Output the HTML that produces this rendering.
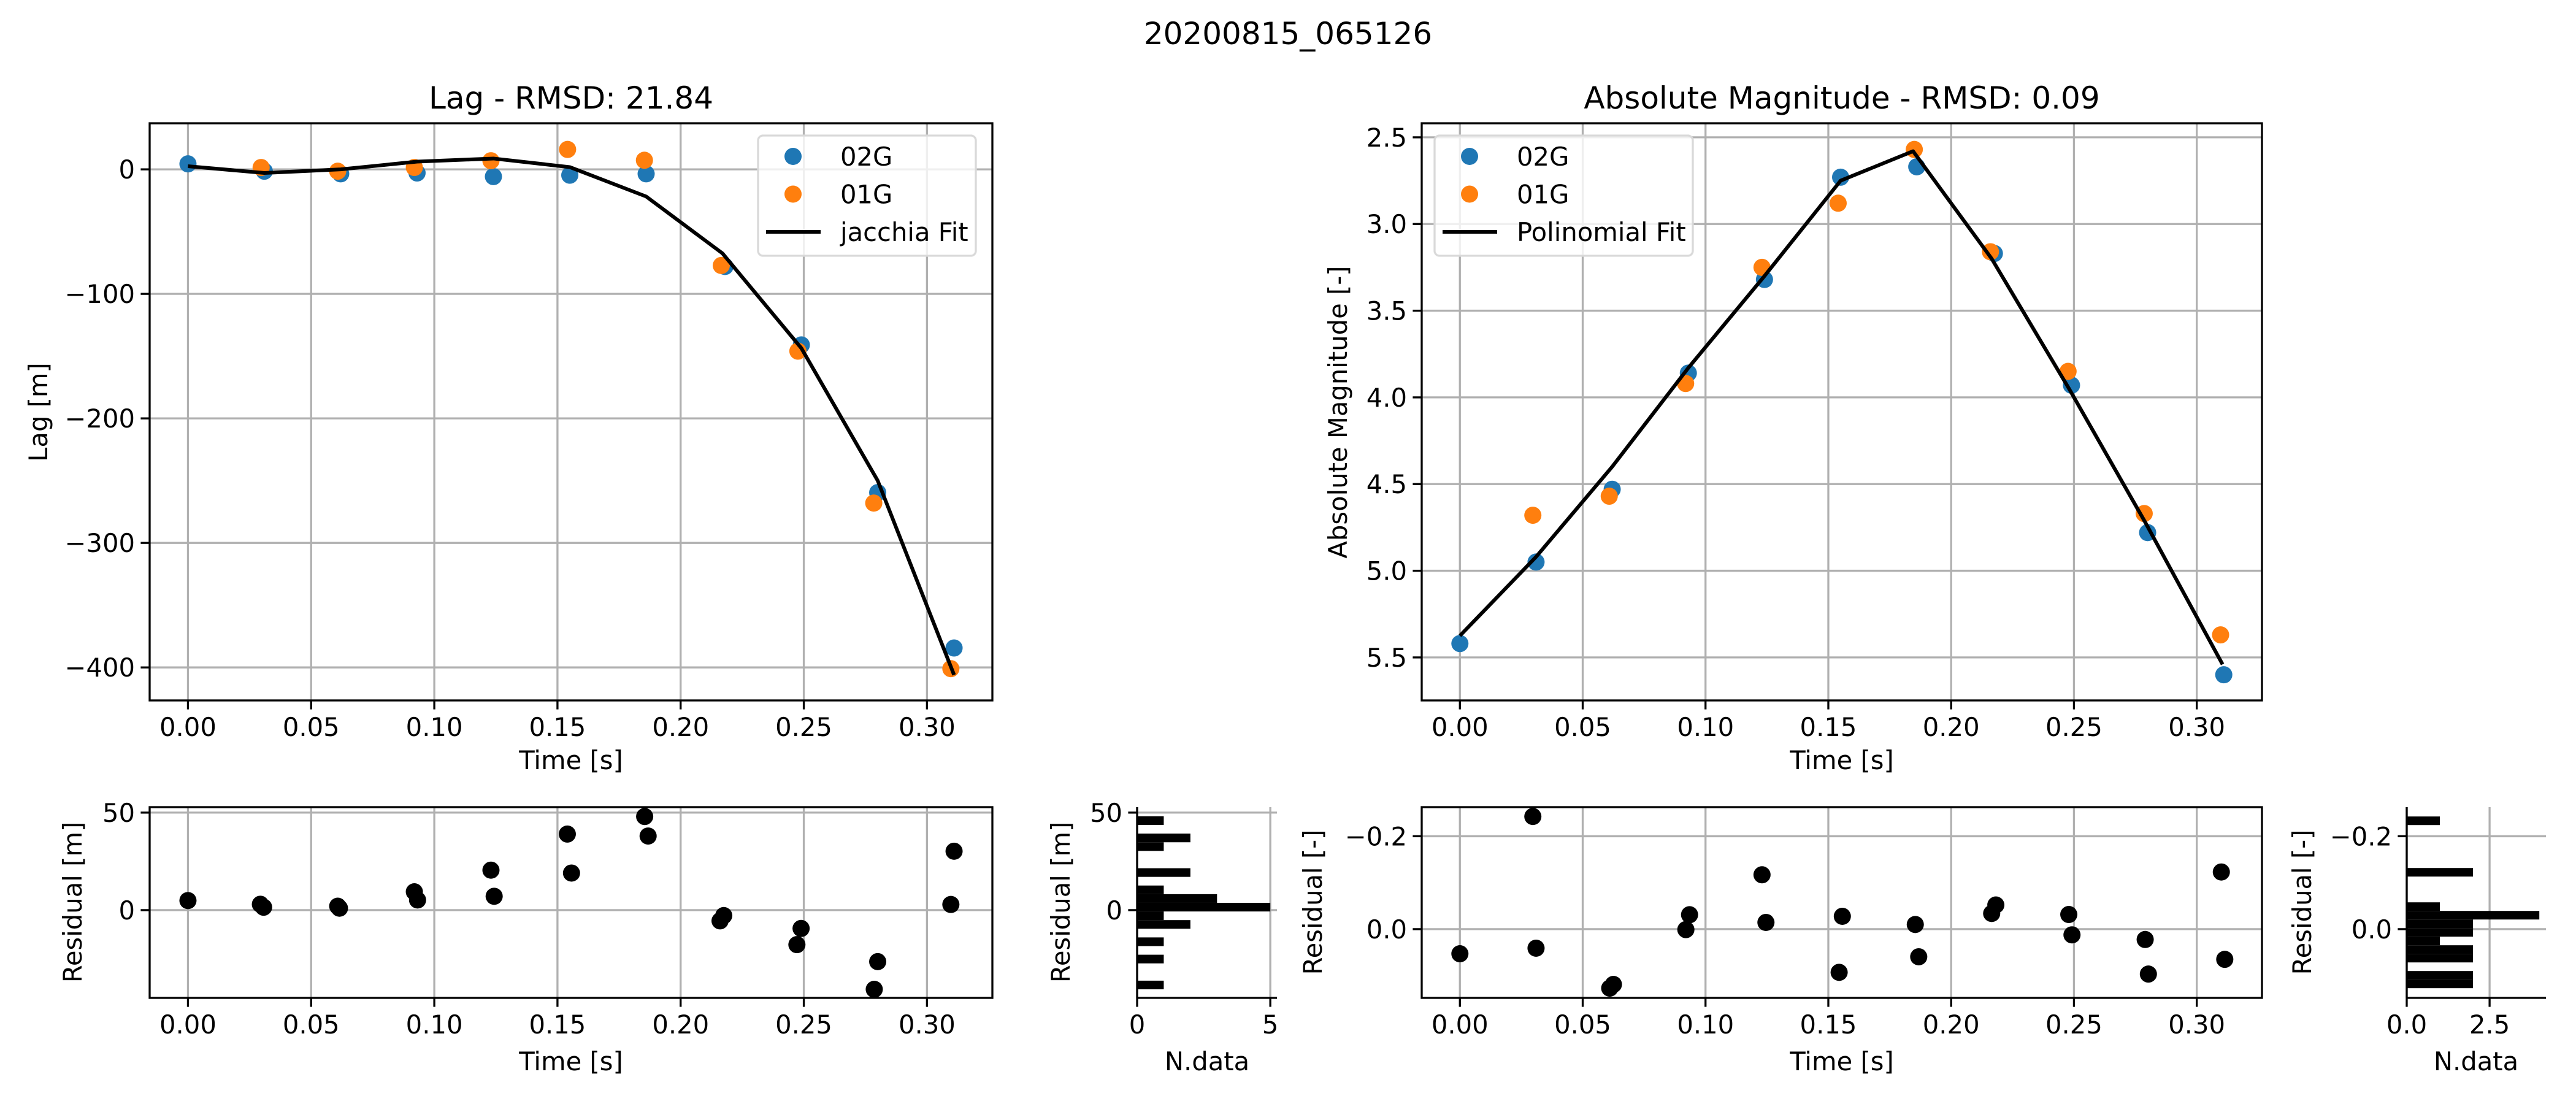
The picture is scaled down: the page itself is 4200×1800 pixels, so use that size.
<!DOCTYPE html>
<html><head><meta charset="utf-8"><style>
html,body{margin:0;padding:0;background:#fff;}
svg{display:block;font-family:"DejaVu Sans","Liberation Sans",sans-serif;}
</style></head><body>
<svg id="fig" xmlns="http://www.w3.org/2000/svg" width="4200" height="1800" viewBox="0 0 4200 1800">
<rect width="4200" height="1800" fill="#fff"/>
<text x="2100" y="72" font-size="50" text-anchor="middle">20200815_065126</text>
</svg>
<script>
// ---------- DATA ----------
const lagT02 = [0, 0.031, 0.062, 0.093, 0.124, 0.155, 0.186, 0.218, 0.249, 0.280, 0.311];
const lag02 = [4.4, -1.5, -3.6, -2.9, -5.8, -4.7, -3.6, -78, -141, -259.6, -384.4];
const lagT01 = [0.0297, 0.0608, 0.0919, 0.1230, 0.1541, 0.1853, 0.2165, 0.2476, 0.2784, 0.3097];
const lag01 = [1.5, -1.5, 1.5, 6.9, 16, 7.3, -77.2, -146, -268, -401];
const lagFitT = [0, 0.031, 0.062, 0.093, 0.124, 0.155, 0.186, 0.217, 0.249, 0.280, 0.311];
const lagFit = [2.5, -2.9, 0, 6.2, 8.7, 1.8, -21.8, -67.5, -143.6, -250, -406];

const magT02 = [0, 0.031, 0.062, 0.093, 0.124, 0.155, 0.186, 0.2176, 0.249, 0.280, 0.311];
const mag02 = [5.42, 4.95, 4.53, 3.86, 3.32, 2.73, 2.67, 3.17, 3.93, 4.78, 5.60];
const magT01 = [0.0297, 0.0608, 0.0919, 0.123, 0.154, 0.185, 0.216, 0.2476, 0.2786, 0.3097];
const mag01 = [4.68, 4.57, 3.92, 3.25, 2.88, 2.57, 3.16, 3.85, 4.67, 5.37];
const magFitT = [0, 0.031, 0.062, 0.093, 0.124, 0.155, 0.1845, 0.2165, 0.248, 0.279, 0.3105];
const magFit = [5.375, 4.92, 4.40, 3.83, 3.30, 2.75, 2.58, 3.20, 3.95, 4.72, 5.54];

const resLagT = [0, 0.0294, 0.0307, 0.0608, 0.0615, 0.0919, 0.0932, 0.123, 0.1243, 0.154, 0.1557, 0.1854, 0.1868, 0.216, 0.2175, 0.2472, 0.2489, 0.2786, 0.280, 0.3097, 0.311];
const resLag = [4.9, 3, 1.5, 2, 1, 9.4, 5.2, 20.5, 7.1, 39, 19, 48, 38, -5.5, -2.8, -17.7, -9.4, -40.6, -26.4, 2.9, 30.2];
const resMagT = [0, 0.0297, 0.031, 0.061, 0.0625, 0.092, 0.0935, 0.123, 0.1246, 0.1544, 0.1557, 0.1854, 0.1868, 0.2165, 0.2182, 0.2479, 0.2492, 0.279, 0.2803, 0.310, 0.3114];
const resMag = [0.053, -0.2425, 0.041, 0.127, 0.119, 0.001, -0.031, -0.117, -0.0144, 0.093, -0.0276, -0.010, 0.0595, -0.0337, -0.052, -0.0315, 0.0123, 0.0223, 0.0967, -0.123, 0.065];

const histLagStart = -40.6, histLagWidth = 4.435;
const histLagCounts = [1,0,0,1,0,1,0,2,1,5,3,1,0,2,0,0,1,2,0,1];
const histMagStart = -0.2425, histMagWidth = 0.01848;
const histMagCounts = [1,0,0,0,0,0,2,0,0,0,1,4,2,2,1,2,2,0,2,2];

const timeTicks = [0, 0.05, 0.10, 0.15, 0.20, 0.25, 0.30];
const timeTickLabels = ["0.00","0.05","0.10","0.15","0.20","0.25","0.30"];
const lagTicks = [0, -100, -200, -300, -400];
const lagTickLabels = ["0","\u2212100","\u2212200","\u2212300","\u2212400"];
const magTicks = [2.5, 3.0, 3.5, 4.0, 4.5, 5.0, 5.5];
const magTickLabels = ["2.5","3.0","3.5","4.0","4.5","5.0","5.5"];
const resLagTicks = [50, 0];
const resLagTickLabels = ["50","0"];
const resMagTicks = [-0.2, 0.0];
const resMagTickLabels = ["\u22120.2","0.0"];
const hLagXTicks = [0, 5];
const hLagXTickLabels = ["0","5"];
const hMagXTicks = [0, 2.5];
const hMagXTickLabels = ["0.0","2.5"];

// ---------- RENDER ----------
const NS = "http://www.w3.org/2000/svg";
const svg = document.getElementById('fig');
function mk(tag, attrs, parent) {
  const e = document.createElementNS(NS, tag);
  for (const k in attrs) e.setAttribute(k, attrs[k]);
  (parent || svg).appendChild(e);
  return e;
}
function lin(d0, d1, r0, r1) { return v => r0 + (v - d0) * (r1 - r0) / (d1 - d0); }

function makeAxes(name, box, xlim, ylim, xt, xtl, yt, ytl, opts) {
  const g = mk('g', {});
  
  
  const sx = lin(xlim[0], xlim[1], box.l, box.r);
  const sy = lin(ylim[0], ylim[1], box.b, box.t);
  const grid = mk('g', {}, g);
  
  
  xt.forEach(v => { const x = sx(v); mk('line', {x1:x, x2:x, y1:box.t, y2:box.b, stroke:'#b0b0b0', 'stroke-width':3.3}, grid); });
  yt.forEach(v => { const y = sy(v); mk('line', {x1:box.l, x2:box.r, y1:y, y2:y, stroke:'#b0b0b0', 'stroke-width':3.3}, grid); });
  const plot = mk('g', {}, g);
  // ticks
  xt.forEach((v, i) => {
    const x = sx(v);
    mk('line', {x1:x, x2:x, y1:box.b, y2:box.b + 14.6, stroke:'#000', 'stroke-width':3.3}, g);
    const t = mk('text', {x:x, y:box.b + 58, 'font-size':41.7, 'text-anchor':'middle'}, g);
    
    
    t.textContent = xtl[i];
  });
  yt.forEach((v, i) => {
    const y = sy(v);
    mk('line', {x1:box.l - 14.6, x2:box.l, y1:y, y2:y, stroke:'#000', 'stroke-width':3.3}, g);
    const t = mk('text', {x:box.l - 24, y:y + 15, 'font-size':41.7, 'text-anchor':'end'}, g);
    
    
    t.textContent = ytl[i];
  });
  return {g, plot, sx, sy, box, opts: opts || {}};
}
function finishAxes(ax, full) {
  const b = ax.box;
  if (full) {
    mk('rect', {x:b.l, y:b.t, width:b.r - b.l, height:b.b - b.t, fill:'none', stroke:'#000', 'stroke-width':3.3}, ax.g);
  } else {
    mk('line', {x1:b.l, x2:b.l, y1:b.t, y2:b.b, stroke:'#000', 'stroke-width':3.3}, ax.g);
    mk('line', {x1:b.l, x2:b.r, y1:b.b, y2:b.b, stroke:'#000', 'stroke-width':3.3}, ax.g);
  }
}
function label(txt, x, y, size, rot, name) {
  const t = mk('text', {x:x, y:y, 'font-size':size, 'text-anchor':'middle'});
  if (rot) t.setAttribute('transform', 'rotate(-90 ' + x + ' ' + y + ')');
  
  
  t.textContent = txt;
}
function scatter(ax, xs, ys, color, name, r) {
  const grp = mk('g', {}, ax.plot);
  
  
  xs.forEach((x, i) => {
    const c = mk('circle', {cx:ax.sx(x), cy:ax.sy(ys[i]), r:r || 14, fill:color}, grp);
    
    
  });
}
function line(ax, xs, ys, name) {
  const p = mk('polyline', {points: xs.map((x, i) => ax.sx(x) + ',' + ax.sy(ys[i])).join(' '), fill:'none', stroke:'#000', 'stroke-width':6, 'stroke-linejoin':'round'}, ax.plot);
  
  
}
function hbars(ax, start, width, counts, name) {
  const grp = mk('g', {}, ax.plot);
  
  
  counts.forEach((c, i) => {
    if (!c) return;
    const y0 = ax.sy(start + width * (i + 1)), y1 = ax.sy(start + width * i);
    const top = Math.min(y0, y1), h = Math.abs(y1 - y0);
    const r = mk('rect', {x:ax.sx(0), y:top, width:ax.sx(c) - ax.sx(0), height:h, fill:'#000'}, grp);
    
    
  });
}
function legend(x, y, w, h, entries, name) {
  const g = mk('g', {});
  
  
  mk('rect', {x:x, y:y, width:w, height:h, rx:8, fill:'#fff', 'fill-opacity':0.8, stroke:'#d9d9d9', 'stroke-width':3.3}, g);
  entries.forEach((e, i) => {
    const cy = y + 34 + i * 61.5;
    if (e.type === 'dot') mk('circle', {cx:x + 57, cy:cy, r:14, fill:e.color}, g);
    else mk('line', {x1:x + 13, x2:x + 102, y1:cy, y2:cy, stroke:'#000', 'stroke-width':6}, g);
    const t = mk('text', {x:x + 134, y:cy + 15, 'font-size':41.7}, g);
    
    
    t.textContent = e.label;
  });
}

const BLUE = '#1f77b4', ORANGE = '#ff7f0e';
const TX = [-0.01555, 0.32655];

// Lag main
const a1 = makeAxes('lag-axes', {l:244, r:1618, t:201, b:1142}, TX, [-426.5, 37], timeTicks, timeTickLabels, lagTicks, lagTickLabels);
scatter(a1, lagT02, lag02, BLUE, 'lag-02G');
scatter(a1, lagT01, lag01, ORANGE, 'lag-01G');
line(a1, lagFitT, lagFit, 'lag-jacchia-fit');
finishAxes(a1, true);
legend(1236, 221, 355, 196, [{type:'dot', color:BLUE, label:'02G'}, {type:'dot', color:ORANGE, label:'01G'}, {type:'line', label:'jacchia Fit'}], 'lag-legend');
label('Lag - RMSD: 21.84', 931, 177, 50, false, 'lag-title');
label('Time [s]', 931, 1254, 41.7, false, 'lag-x-axis-title');
label('Lag [m]', 77, 672, 41.7, true, 'lag-y-axis-title');

// Abs mag main
const a2 = makeAxes('magnitude-axes', {l:2318, r:3688, t:201, b:1142}, TX, [5.748, 2.419], timeTicks, timeTickLabels, magTicks, magTickLabels);
scatter(a2, magT02, mag02, BLUE, 'mag-02G');
scatter(a2, magT01, mag01, ORANGE, 'mag-01G');
line(a2, magFitT, magFit, 'mag-polinomial-fit');
finishAxes(a2, true);
legend(2339, 221, 421, 196, [{type:'dot', color:BLUE, label:'02G'}, {type:'dot', color:ORANGE, label:'01G'}, {type:'line', label:'Polinomial Fit'}], 'mag-legend');
label('Absolute Magnitude - RMSD: 0.09', 3003, 177, 50, false, 'mag-title');
label('Time [s]', 3003, 1254, 41.7, false, 'mag-x-axis-title');
label('Absolute Magnitude [-]', 2196, 672, 41.7, true, 'mag-y-axis-title');

// Lag residual
const a3 = makeAxes('lag-residual-axes', {l:244, r:1618, t:1316, b:1627}, TX, [-45, 52.8], timeTicks, timeTickLabels, resLagTicks, resLagTickLabels);
scatter(a3, resLagT, resLag, '#000', 'lag-residual');
finishAxes(a3, true);
label('Time [s]', 931, 1745, 41.7, false, 'lag-residual-x-axis-title');
label('Residual [m]', 133, 1471, 41.7, true, 'lag-residual-y-axis-title');

// Lag hist
const a4 = makeAxes('lag-hist-axes', {l:1854, r:2082, t:1316, b:1627}, [0, 5.25], [-45, 52.8], hLagXTicks, hLagXTickLabels, resLagTicks, resLagTickLabels);
hbars(a4, histLagStart, histLagWidth, histLagCounts, 'lag-hist');
finishAxes(a4, false);
label('N.data', 1968, 1745, 41.7, false, 'lag-hist-x-axis-title');
label('Residual [m]', 1744, 1471, 41.7, true, 'lag-hist-y-axis-title');

// Mag residual
const a5 = makeAxes('mag-residual-axes', {l:2318, r:3688, t:1316, b:1627}, TX, [0.148, -0.2626], timeTicks, timeTickLabels, resMagTicks, resMagTickLabels);
scatter(a5, resMagT, resMag, '#000', 'mag-residual');
finishAxes(a5, true);
label('Time [s]', 3003, 1745, 41.7, false, 'mag-residual-x-axis-title');
label('Residual [-]', 2155, 1471, 41.7, true, 'mag-residual-y-axis-title');

// Mag hist
const a6 = makeAxes('mag-hist-axes', {l:3924, r:4151, t:1316, b:1627}, [0, 4.2], [0.148, -0.2626], hMagXTicks, hMagXTickLabels, resMagTicks, resMagTickLabels);
hbars(a6, histMagStart, histMagWidth, histMagCounts, 'mag-hist');
finishAxes(a6, false);
label('N.data', 4037, 1745, 41.7, false, 'mag-hist-x-axis-title');
label('Residual [-]', 3768, 1471, 41.7, true, 'mag-hist-y-axis-title');
</script>
</body></html>
